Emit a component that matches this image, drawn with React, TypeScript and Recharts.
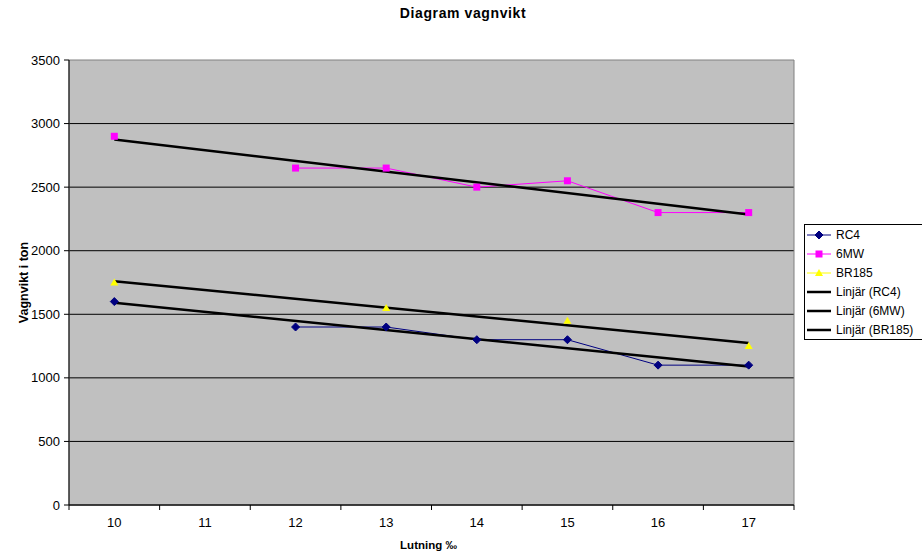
import {
  CartesianGrid,
  Label,
  Legend,
  Line,
  LineChart,
  ReferenceArea,
  XAxis,
  YAxis,
} from "recharts";

const categories = [10, 11, 12, 13, 14, 15, 16, 17];
const rc4 = [1600, null, 1400, 1400, 1300, 1300, 1100, 1100];
const mw6 = [2900, null, 2650, 2650, 2500, 2550, 2300, 2300];
const br185 = [1750, null, null, 1550, null, 1450, null, 1250];
// linear trend lines, start and end values
const trendRc4 = [1590, null, null, null, null, null, null, 1090];
const trendMw6 = [2875, null, null, null, null, null, null, 2285];
const trendBr185 = [1760, null, null, null, null, null, null, 1275];
const yTicks = [0, 500, 1000, 1500, 2000, 2500, 3000, 3500];
const xBoundaries = [9.5, 10.5, 11.5, 12.5, 13.5, 14.5, 15.5, 16.5, 17.5];

const FONT = '"Liberation Sans", Arial, sans-serif';
const WIDTH = 922;
const HEIGHT = 558;
const MARGIN = { top: 60, right: 128, bottom: 23, left: 9 };
const Y_AXIS_W = 60;
const PLOT_W = WIDTH - MARGIN.left - MARGIN.right - Y_AXIS_W;
const HALF_BAND = PLOT_W / categories.length / 2;

const NAVY = "#000080";
const MAGENTA = "#FF00FF";
const YELLOW = "#FFFF00";

const data = categories.map((lutning, i) => ({
  lutning,
  rc4: rc4[i],
  mw6: mw6[i],
  br185: br185[i],
  trendRc4: trendRc4[i],
  trendMw6: trendMw6[i],
  trendBr185: trendBr185[i],
}));

function Diamond({ cx, cy, fill }: any) {
  if (cx == null || cy == null) return null;
  const r = 4;
  return (
    <polygon
      points={`${cx},${cy - r} ${cx + r},${cy} ${cx},${cy + r} ${cx - r},${cy}`}
      fill={fill}
      stroke={fill}
    />
  );
}

function Square({ cx, cy, fill }: any) {
  if (cx == null || cy == null) return null;
  return <rect x={cx - 3.5} y={cy - 3.5} width={7} height={7} fill={fill} />;
}

function Triangle({ cx, cy, fill }: any) {
  if (cx == null || cy == null) return null;
  return (
    <polygon
      points={`${cx},${cy - 4} ${cx + 4},${cy + 3} ${cx - 4},${cy + 3}`}
      fill={fill}
    />
  );
}

function XTick({ x, y, payload }: any) {
  if (payload.value >= 17.5) return null;
  return (
    <text
      x={x + HALF_BAND}
      y={y}
      dy="0.71em"
      textAnchor="middle"
      fontSize={13}
      fontFamily={FONT}
      fill="#000"
    >
      {payload.value + 0.5}
    </text>
  );
}

const legendItems = [
  { name: "RC4", color: NAVY, marker: "diamond" },
  { name: "6MW", color: MAGENTA, marker: "square" },
  { name: "BR185", color: YELLOW, marker: "triangle" },
  { name: "Linjär (RC4)", color: "#000", marker: "" },
  { name: "Linjär (6MW)", color: "#000", marker: "" },
  { name: "Linjär (BR185)", color: "#000", marker: "" },
];

function LegendBox() {
  return (
    <div
      style={{
        border: "1px solid #000",
        background: "#fff",
        padding: "0 0 0 2px",
        width: 130,
        fontFamily: FONT,
        fontSize: 12,
        color: "#000",
      }}
    >
      {legendItems.map((item) => (
        <div
          key={item.name}
          style={{ display: "flex", alignItems: "center", height: 19, whiteSpace: "nowrap" }}
        >
          <svg width={29} height={10} style={{ flex: "none" }}>
            <line
              x1={0}
              x2={24}
              y1={5}
              y2={5}
              stroke={item.color}
              strokeWidth={item.marker ? 1 : 2.5}
            />
            {item.marker === "diamond" && <Diamond cx={12} cy={5} fill={item.color} />}
            {item.marker === "square" && <Square cx={12} cy={5} fill={item.color} />}
            {item.marker === "triangle" && <Triangle cx={12} cy={5} fill={item.color} />}
          </svg>
          <span>{item.name}</span>
        </div>
      ))}
    </div>
  );
}

export default function App() {
  return (
    <div
      style={{
        position: "absolute",
        left: 0,
        top: 0,
        width: WIDTH,
        height: HEIGHT,
        overflow: "hidden",
      }}
    >
      <div
        style={{
          position: "absolute",
          left: 0,
          top: 5,
          width: 926,
          textAlign: "center",
          fontFamily: FONT,
          fontWeight: "bold",
          fontSize: 14,
          letterSpacing: 0.6,
          lineHeight: "16px",
          color: "#000",
        }}
      >
        Diagram vagnvikt
      </div>
      <LineChart width={WIDTH} height={HEIGHT} data={data} margin={MARGIN}>
        <CartesianGrid
          horizontal
          vertical={false}
          horizontalValues={yTicks.slice(0, -1)}
          stroke="#000"
          fill="#C0C0C0"
          fillOpacity={1}
        />
        <ReferenceArea
          x1={9.5}
          x2={17.5}
          y1={0}
          y2={3500}
          fill="none"
          stroke="#808080"
          strokeWidth={1}
        />
        <XAxis
          dataKey="lutning"
          type="number"
          domain={[9.5, 17.5]}
          ticks={xBoundaries}
          interval={0}
          height={30}
          tickSize={5}
          tickMargin={8}
          tick={<XTick />}
          axisLine={{ stroke: "#000" }}
          tickLine={{ stroke: "#000" }}
        >
          <Label
            content={({ viewBox }: any) => (
              <text
                x={viewBox.x + viewBox.width / 2 - 3}
                y={viewBox.y + 44}
                textAnchor="middle"
                fontSize={11.5}
                fontWeight="bold"
                fontFamily={FONT}
                fill="#000"
              >
                Lutning ‰
              </text>
            )}
          />
        </XAxis>
        <YAxis
          type="number"
          domain={[0, 3500]}
          ticks={yTicks}
          interval={0}
          width={Y_AXIS_W}
          tickSize={5}
          tickMargin={4}
          tick={{ fontSize: 13, fontFamily: FONT, fill: "#000" }}
          axisLine={{ stroke: "#000" }}
          tickLine={{ stroke: "#000" }}
        >
          <Label
            content={({ viewBox }: any) => {
              const cy = viewBox.y + viewBox.height / 2;
              return (
                <text
                  x={28}
                  y={cy}
                  transform={`rotate(-90, 28, ${cy})`}
                  textAnchor="middle"
                  fontSize={12.5}
                  fontWeight="bold"
                  fontFamily={FONT}
                  fill="#000"
                >
                  Vagnvikt i ton
                </text>
              );
            }}
          />
        </YAxis>
        <Legend
          layout="horizontal"
          verticalAlign="middle"
          align="center"
          content={<LegendBox />}
          wrapperStyle={{ left: 804, top: 224, width: 134 }}
        />
        <Line
          dataKey="rc4"
          stroke={NAVY}
          strokeWidth={1}
          dot={<Diamond fill={NAVY} />}
          activeDot={false}
          isAnimationActive={false}
        />
        <Line
          dataKey="mw6"
          stroke={MAGENTA}
          strokeWidth={1}
          dot={<Square fill={MAGENTA} />}
          activeDot={false}
          isAnimationActive={false}
        />
        <Line
          dataKey="br185"
          stroke={YELLOW}
          strokeWidth={1}
          dot={<Triangle fill={YELLOW} />}
          activeDot={false}
          isAnimationActive={false}
        />
        <Line
          dataKey="trendRc4"
          stroke="#000"
          strokeWidth={2.5}
          dot={false}
          activeDot={false}
          connectNulls
          isAnimationActive={false}
        />
        <Line
          dataKey="trendMw6"
          stroke="#000"
          strokeWidth={2.5}
          dot={false}
          activeDot={false}
          connectNulls
          isAnimationActive={false}
        />
        <Line
          dataKey="trendBr185"
          stroke="#000"
          strokeWidth={2.5}
          dot={false}
          activeDot={false}
          connectNulls
          isAnimationActive={false}
        />
      </LineChart>
    </div>
  );
}
